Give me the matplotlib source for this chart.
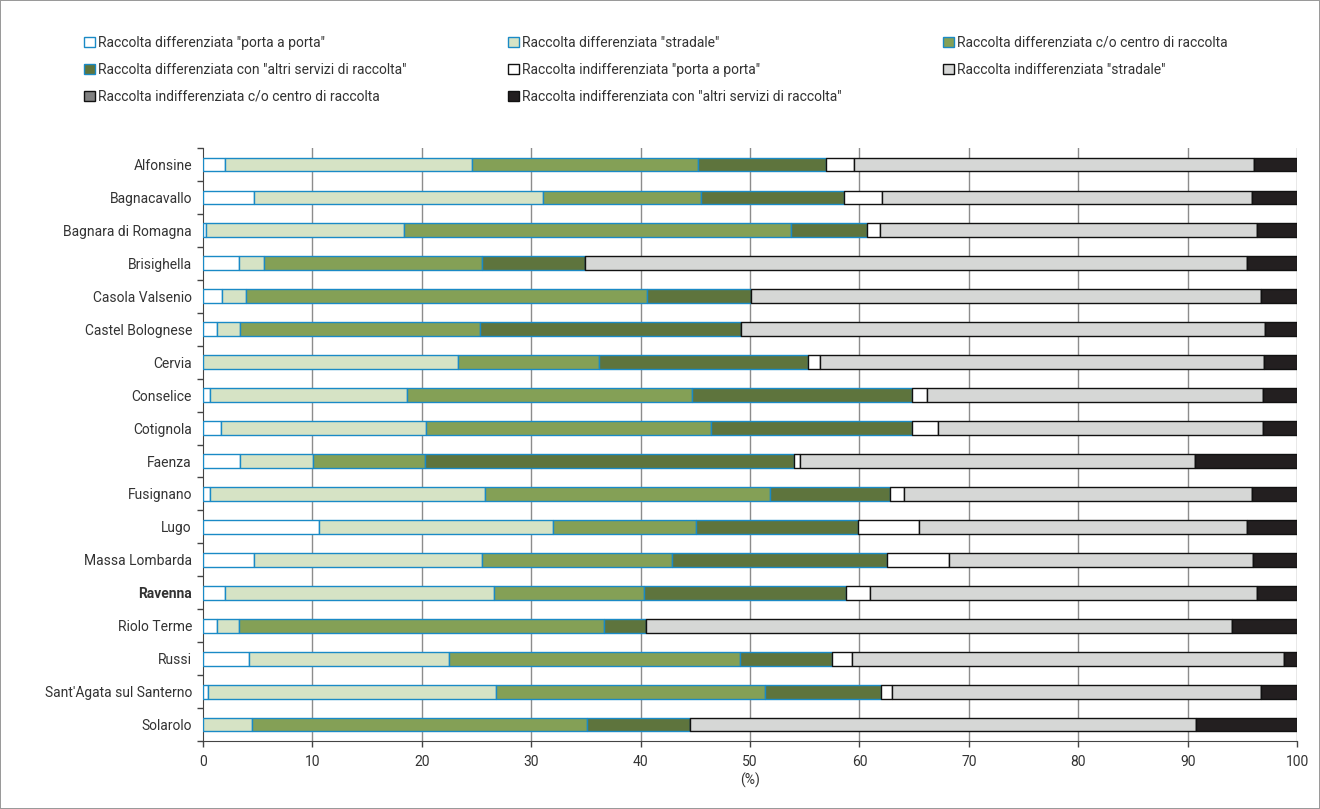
import numpy as np
import matplotlib
matplotlib.use("Agg")
from matplotlib import pyplot as plt

plt.rcParams["font.family"] = ["Roboto", "DejaVu Sans"]

comuni = [
    "Alfonsine", "Bagnacavallo", "Bagnara di Romagna", "Brisighella",
    "Casola Valsenio", "Castel Bolognese", "Cervia", "Conselice",
    "Cotignola", "Faenza", "Fusignano", "Lugo", "Massa Lombarda",
    "Ravenna", "Riolo Terme", "Russi", "Sant'Agata sul Santerno", "Solarolo",
]

serie = [
    'Raccolta differenziata "porta a porta"',
    'Raccolta differenziata "stradale"',
    "Raccolta differenziata c/o centro di raccolta",
    'Raccolta differenziata con "altri servizi di raccolta"',
    'Raccolta indifferenziata "porta a porta"',
    'Raccolta indifferenziata "stradale"',
    "Raccolta indifferenziata c/o centro di raccolta",
    'Raccolta indifferenziata con "altri servizi di raccolta"',
]

# percentuali per comune, nell'ordine delle serie
diff_pap = [2.0, 4.7, 0.3, 3.3, 1.7, 1.3, 0.0, 0.6, 1.6, 3.4, 0.6, 10.6, 4.7, 2.0, 1.3, 4.2, 0.5, 0.0]
diff_strad = [22.6, 26.4, 18.1, 2.3, 2.2, 2.1, 23.35, 18.0, 18.8, 6.66, 25.2, 21.4, 20.8, 24.6, 1.96, 18.3, 26.3, 4.5]
diff_centro = [20.65, 14.4, 35.3, 19.9, 36.65, 21.9, 12.85, 26.1, 26.0, 10.24, 26.0, 13.1, 17.4, 13.7, 33.4, 26.6, 24.6, 30.56]
diff_altri = [11.65, 13.1, 7.0, 9.4, 9.55, 23.9, 19.1, 20.1, 18.4, 33.7, 10.95, 14.8, 19.6, 18.5, 3.8, 8.4, 10.6, 9.44]
indiff_pap = [2.6, 3.5, 1.2, 0.0, 0.0, 0.0, 1.1, 1.4, 2.4, 0.6, 1.35, 5.5, 5.7, 2.2, 0.0, 1.8, 1.0, 0.0]
indiff_strad = [36.6, 33.8, 34.4, 60.5, 46.6, 47.85, 40.6, 30.7, 29.7, 36.1, 31.8, 30.0, 27.8, 35.3, 53.6, 39.5, 33.7, 46.25]
indiff_centro = [0.0] * 18
indiff_altri = [3.9, 4.1, 3.7, 4.6, 3.3, 2.95, 3.0, 3.1, 3.1, 9.3, 4.1, 4.6, 4.0, 3.7, 5.9, 1.2, 3.3, 9.25]

valori = [diff_pap, diff_strad, diff_centro, diff_altri,
          indiff_pap, indiff_strad, indiff_centro, indiff_altri]
colori = ["#ffffff", "#d6e3c5", "#84a056", "#5e743d",
          "#ffffff", "#d6d7d6", "#808080", "#231f20"]
bordi = ["#1a8ac6"] * 4 + ["#111111"] * 4

fig = plt.figure(figsize=(13.2, 8.09), dpi=100, linewidth=1.2, edgecolor="#9a9a9a")
ax = fig.add_axes([0.1538, 0.084, 0.8288, 0.733])

y = np.arange(len(comuni))
left = np.zeros(len(comuni))
handles = []
for nome, vals, col, bor in zip(serie, valori, colori, bordi):
    vals = np.array(vals)
    b = ax.barh(y, vals, left=left, height=0.42, color=col, edgecolor=bor,
                linewidth=1.0, label=nome, zorder=3)
    handles.append(b)
    left += vals

ax.set_xlim(0, 100)
ax.set_ylim(len(comuni) - 0.5, -0.5)
ax.set_xticks(np.arange(0, 101, 10))
ax.set_xlabel("(%)", fontsize=10, labelpad=3, color="#333333")
for x in range(10, 101, 10):
    ax.axvline(x, color="#8c8c8c", linewidth=1.0, zorder=1)

ax.set_yticks(y)
ax.set_yticklabels(comuni)
ax.set_yticks(np.arange(-0.5, len(comuni)), minor=True)
ax.tick_params(axis="y", which="major", length=0, pad=8, labelsize=10, labelcolor="#333333")
ax.tick_params(axis="y", which="minor", length=4, width=1, color="#444444")
ax.tick_params(axis="x", length=4, width=1, color="#444444", labelsize=10, labelcolor="#333333", pad=6)
for lab in ax.get_yticklabels():
    if lab.get_text() == "Ravenna":
        lab.set_fontweight("bold")

ax.spines["top"].set_visible(False)
ax.spines["right"].set_visible(False)
ax.spines["left"].set_color("#444444")
ax.spines["bottom"].set_color("#444444")

# legenda in ordine per righe
ordine = [0, 3, 6, 1, 4, 7, 2, 5]
leg = fig.legend([handles[i] for i in ordine], [serie[i] for i in ordine],
                 ncol=3, loc="upper left", bbox_to_anchor=(0.064, 0.856, 0.866, 0.1),
                 mode="expand", frameon=False, fontsize=10, handlelength=0.75,
                 handleheight=0.75, handletextpad=0.25, labelspacing=0.95,
                 borderaxespad=0, borderpad=0)
for t in leg.get_texts():
    t.set_color("#333333")

fig.savefig("out.png", dpi=100)
